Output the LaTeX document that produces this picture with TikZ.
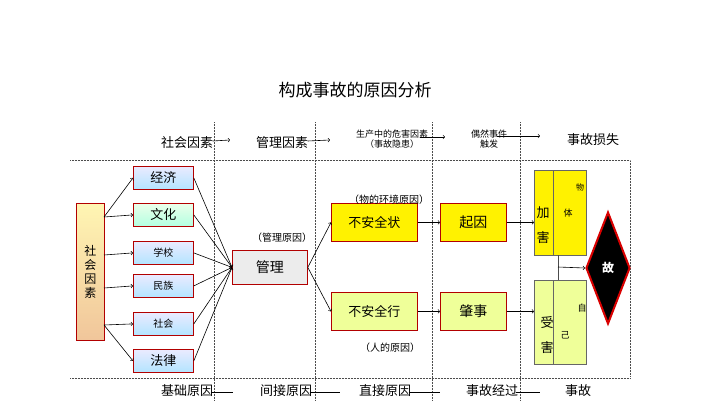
\documentclass[tikz,border=0pt]{standalone}
\usepackage{fontspec}
\setmainfont{Noto Sans CJK SC}
\usetikzlibrary{shapes.geometric}
\begin{document}
\begin{tikzpicture}[x=1pt,y=-1pt,
  bx/.style={draw=red!70!black,line width=0.8pt,inner sep=0pt,anchor=north west},
  bluebx/.style={bx,top color=blue!8,bottom color=blue!35!cyan!30,minimum width=60pt,minimum height=23pt,font=\fontsize{13}{13}\selectfont},
  ylw/.style={bx,fill=yellow,minimum width=86pt,minimum height=38pt,font=\fontsize{13}{13}\selectfont},
  grn/.style={bx,fill=green!50!lime!25!yellow!40,minimum width=86pt,minimum height=38pt,font=\fontsize{13}{13}\selectfont},
  lbl/.style={font=\fontsize{13}{13}\selectfont},
  sm/.style={font=\fontsize{9}{10}\selectfont,align=center},
  dot/.style={densely dotted,gray!60!black,line width=0.5pt},
  arr/.style={->,line width=0.6pt}]
\path[use as bounding box,fill=white] (0,0) rectangle (707,400);
\node[font=\fontsize{17}{17}\selectfont] (title) at (355,90) {构成事故的原因分析};
% dotted guides
\foreach \x in {214,315,432,520} \draw[dot] (\x,122) -- (\x,400);
\draw[dot] (70,160) -- (630,160) -- (630,376);
\draw[dot] (70,378) -- (630,378);
% top labels
\node[lbl] (t1) at (187,143) {社会因素};
\coordinate (t1e) at (230,140);
\draw[arr] (t1.east) ++(-4,-2) -- (t1e);
\node[lbl] (t2) at (282,143) {管理因素};
\coordinate (t2e) at (330,140);
\draw[arr] (t2.east) ++(-4,-2) -- (t2e);
\node[sm] (t3) at (392,139) {生产中的危害因素\\（事故隐患）};
\coordinate (t3e) at (445,137);
\draw[arr] (420,137) -- (t3e);
\node[sm] (t4) at (489,139) {偶然事件\\触发};
\coordinate (t4e) at (540,136);
\draw[arr] (497,136) -- (t4e);
\node[lbl] (t5) at (593,140) {事故损失};
% bottom labels
\node[lbl] (b1) at (187,391) {基础原因};
\node[lbl] (b2) at (286,391) {间接原因};
\node[lbl] (b3) at (385,391) {直接原因};
\node[lbl] (b4) at (492,391) {事故经过};
\node[lbl] (b5) at (578,391) {事故};
\coordinate (b1e) at (233,392); \draw (b1.east) ++(-6,1) -- (b1e);
\coordinate (b2e) at (340,392); \draw (b2.east) ++(-6,1) -- (b2e);
\coordinate (b3e) at (440,392); \draw (b3.east) ++(-6,1) -- (b3e);
\coordinate (b4e) at (540,392); \draw (b4.east) ++(-6,1) -- (b4e);
% left box
\node[bx,top color=orange!25!yellow!30,bottom color=orange!50!brown!45,minimum width=28pt,minimum height=137pt,font=\fontsize{12}{14}\selectfont,align=center] (soc) at (76,203) {社\\会\\因\\素};
\node[bluebx] (jj) at (133,166) {经济};
\node[bx,top color=green!8,bottom color=green!40!cyan!30,minimum width=60pt,minimum height=23pt,font=\fontsize{13}{13}\selectfont] (wh) at (133,203) {文化};
\node[bluebx,font=\fontsize{10}{10}\selectfont] (xx) at (133,241) {学校};
\node[bluebx,font=\fontsize{10}{10}\selectfont] (mz) at (133,274) {民族};
\node[bluebx,font=\fontsize{10}{10}\selectfont] (sh) at (133,312) {社会};
\node[bluebx] (fl) at (133,349) {法律};
\coordinate (s1) at (104,217); \coordinate (s2) at (104,255);
\coordinate (s3) at (104,288); \coordinate (s4) at (104,325);
\draw[arr] (s1) -- (jj.west); \draw[arr] (s1) -- (wh.west);
\draw[arr] (s2) -- (xx.west); \draw[arr] (s3) -- (mz.west);
\draw[arr] (s4) -- (sh.west); \draw[arr] (s4) -- (fl.west);
% management
\node[bx,fill=gray!15,minimum width=75pt,minimum height=34pt,font=\fontsize{14}{14}\selectfont] (gl) at (232,250) {管理};
\node[sm,font=\fontsize{10}{10}\selectfont] (gll) at (282,238) {（管理原因）};
\foreach \n in {jj,wh,xx,mz,sh,fl} \draw[arr] (\n.east) -- (gl.west);
% direct causes
\node[ylw] (bz) at (331,203) {不安全状};
\node[sm,font=\fontsize{10}{10}\selectfont] (bzl) at (389,200) {（物的环境原因）};
\node[grn] (bx2) at (331,292) {不安全行};
\node[sm,font=\fontsize{10}{10}\selectfont] (bxl) at (390,348) {（人的原因）};
\draw[arr] (gl.east) -- (bz.west);
\draw[arr] (gl.east) -- (bx2.west);
\node[ylw,minimum width=66pt,font=\fontsize{14}{14}\selectfont] (qy) at (440,203) {起因};
\node[grn,minimum width=66pt,font=\fontsize{14}{14}\selectfont] (zs) at (440,292) {肇事};
\draw[arr] (bz.east) -- (qy.west);
\draw[arr] (bx2.east) -- (zs.west);
% harm boxes
\node[bx,draw=black!60,fill=yellow,minimum width=52pt,minimum height=85pt] (jh) at (534,170) {};
\node[bx,draw=black!60,fill=green!50!lime!25!yellow!40,minimum width=52pt,minimum height=84pt] (sh2) at (534,280) {};
\draw[black!60] (553,170) -- (553,255);
\draw[black!60] (553,280) -- (553,364);
\node[lbl] at (543,213) {加}; \node[lbl] at (543,238) {害};
\node[font=\fontsize{8}{8}\selectfont] at (580,187) {物};
\node[font=\fontsize{9}{9}\selectfont] at (568,213) {体};
\node[lbl] at (547,323) {受}; \node[lbl] at (547,348) {害};
\node[font=\fontsize{9}{9}\selectfont] at (582,308) {自};
\node[font=\fontsize{9}{9}\selectfont] at (565,335) {己};
\draw[arr] (qy.east) -- (jh.west |- qy.east);
\draw[arr] (zs.east) -- (sh2.west |- zs.east);
\node[diamond,draw=red!85!black,line width=2pt,fill=black,minimum width=44pt,minimum height=112pt,inner sep=0pt,aspect=0.4,text=white,font=\bfseries\fontsize{12}{12}\selectfont] (gu) at (608,268) {故};
\draw[black!70] (558,255) -- (558,280);
\draw[arr] (558,267) -- (gu.west);
\end{tikzpicture}
\end{document}
